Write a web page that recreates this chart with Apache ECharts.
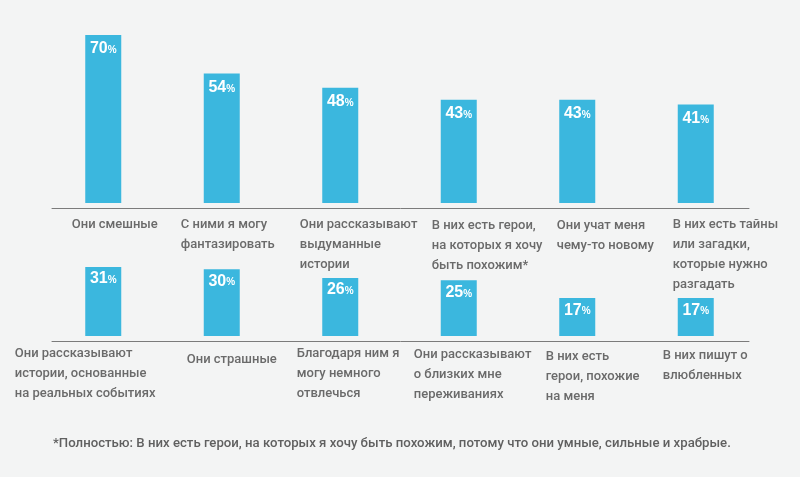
<!DOCTYPE html>
<html>
<head>
<meta charset="utf-8">
<script src="https://cdn.jsdelivr.net/npm/echarts@6/dist/echarts.min.js"></script>
<style>
html,body{margin:0;padding:0;background:#f3f4f4;}
#c{width:800px;height:477px;}
</style>
</head>
<body>
<div id="c"></div>
<script>
var topCategories = [
  'Они смешные',
  'С ними я могу\nфантазировать',
  'Они рассказывают\nвыдуманные\nистории',
  'В них есть герои,\nна которых я хочу\nбыть похожим*',
  'Они учат меня\nчему-то новому',
  'В них есть тайны\nили загадки,\nкоторые нужно\nразгадать'
];
var topValues = [70, 54, 48, 43, 43, 41];

var bottomCategories = [
  'Они рассказывают\nистории, основанные\nна реальных событиях',
  'Они страшные',
  'Благодаря ним я\nмогу немного\nотвлечься',
  'Они рассказывают\nо близких мне\nпереживаниях',
  'В них есть\nгерои, похожие\nна меня',
  'В них пишут о\nвлюбленных'
];
var bottomValues = [31, 30, 26, 25, 17, 17];

var footnote = '*Полностью: В них есть герои, на которых я хочу быть похожим, потому что они умные, сильные и храбрые.';

// label placement styles (padding [top, left]) - styling only
var topLabelPad = [[0, 68.5], [0, 59], [0, 59.5], [1, 73], [1, 79.5], [-2, 77]];
var bottomLabelPad = [[0, 11.5], [6, 65], [-1, 56.5], [1, 55], [3, 68.5], [2, 67]];

var BLUE = '#3bb7de';
var TXT = '#6a6a6a';
var FONT = 'Roboto';

function labelItems(cats, pads) {
  return cats.map(function (c, i) {
    return {
      value: c,
      textStyle: {
        align: 'left', verticalAlign: 'top',
        padding: [Math.max(pads[i][0], 0), 0, 0, pads[i][1]]
      }
    };
  });
}

function pctLabel(dist) {
  return {
    show: true,
    position: 'insideTop',
    distance: dist,
    formatter: function (p) { return '{n|' + p.value + '}{p|%}'; },
    rich: {
      n: { fontFamily: 'Liberation Sans', fontSize: 16, fontWeight: 'bold', color: '#fff' },
      p: { fontFamily: 'Liberation Sans', fontSize: 10, fontWeight: 'bold', color: '#fff', padding: [3, 0, 0, 0] }
    }
  };
}

var hiddenY = { type: 'value', show: false, splitLine: { show: false } };
var lineAxis = {
  type: 'value', min: 0, max: 1,
  axisLine: { show: true, lineStyle: { color: '#7b7b7b', width: 1 } },
  axisTick: { show: false }, axisLabel: { show: false }, splitLine: { show: false }
};
function labelAxis(gridIndex, cats, pads, margin) {
  return {
    type: 'category', gridIndex: gridIndex, data: labelItems(cats, pads),
    axisLine: { show: false }, axisTick: { show: false },
    axisLabel: {
      interval: 0, align: 'left', verticalAlign: 'top', margin: margin,
      fontFamily: FONT, fontWeight: 500, fontSize: 13, lineHeight: 20, color: TXT
    }
  };
}
function barAxis(gridIndex, cats) {
  return {
    type: 'category', gridIndex: gridIndex, data: cats,
    axisLine: { show: false }, axisTick: { show: false }, axisLabel: { show: false }
  };
}
function g(o) { o.outerBoundsMode = 'none'; o.containLabel = false; return o; }

var chart = echarts.init(document.getElementById('c'), null, { renderer: 'canvas' });
chart.setOption({
  backgroundColor: '#f3f4f4',
  animation: false,
  title: {
    text: footnote, left: 48, top: 432,
    textStyle: { fontFamily: FONT, fontSize: 13.2, fontWeight: 500, color: '#606060' }
  },
  grid: [
    g({ left: 44, width: 711, top: 23, height: 180 }),
    g({ left: 52, width: 697, top: 200, height: 8 }),
    g({ left: -56, width: 711, top: 200, height: 8 }),
    g({ left: 44, width: 711, top: 258, height: 78 }),
    g({ left: 52, width: 697, top: 333, height: 8 }),
    g({ left: -56, width: 711, top: 333, height: 8 })
  ],
  xAxis: [
    barAxis(0, topCategories),
    Object.assign({ gridIndex: 1 }, lineAxis),
    labelAxis(2, topCategories, topLabelPad, 7),
    barAxis(3, bottomCategories),
    Object.assign({ gridIndex: 4 }, lineAxis),
    labelAxis(5, bottomCategories, bottomLabelPad, 3)
  ],
  yAxis: [
    Object.assign({ gridIndex: 0, min: 0, max: 75 }, hiddenY),
    Object.assign({ gridIndex: 1 }, hiddenY),
    Object.assign({ gridIndex: 2 }, hiddenY),
    Object.assign({ gridIndex: 3, min: 0, max: 35 }, hiddenY),
    Object.assign({ gridIndex: 4 }, hiddenY),
    Object.assign({ gridIndex: 5 }, hiddenY)
  ],
  series: [
    {
      type: 'bar', xAxisIndex: 0, yAxisIndex: 0, data: topValues,
      barWidth: 36, itemStyle: { color: BLUE }, label: pctLabel(6)
    },
    {
      type: 'bar', xAxisIndex: 3, yAxisIndex: 3, data: bottomValues,
      barWidth: 36, itemStyle: { color: BLUE }, label: pctLabel(4)
    }
  ]
});
</script>
</body>
</html>
